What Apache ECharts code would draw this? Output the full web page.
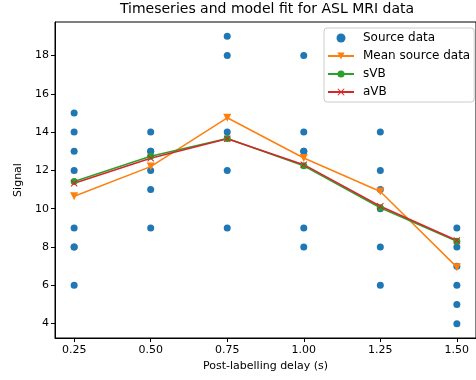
<!DOCTYPE html>
<html><head><meta charset="utf-8">
<script src="https://cdn.jsdelivr.net/npm/echarts@6/dist/echarts.min.js"></script>
<style>html,body{margin:0;padding:0;background:#fff}#c{width:476px;height:380px}</style>
</head><body><div id="c"></div>
<script>
const delays = [0.25, 0.5, 0.75, 1.0, 1.25, 1.5];
const sourceByDelay = [
  [15, 14, 13, 12, 9, 8, 8, 6],
  [14, 13, 13, 12, 11, 9],
  [19, 18, 14, 12, 9],
  [18, 14, 13, 13, 9, 8],
  [14, 12, 11, 10, 8, 6],
  [9, 8, 7, 6, 5, 4]
];
const meanSource = [10.65, 12.2, 14.75, 12.65, 10.9, 6.95];
const sVB = [11.42, 12.74, 13.67, 12.24, 10.05, 8.3];
const aVB = [11.33, 12.64, 13.65, 12.3, 10.13, 8.34];
const xTicks = [0.25, 0.5, 0.75, 1.0, 1.25, 1.5];
const yTicks = [4, 6, 8, 10, 12, 14, 16, 18];
const titleText = 'Timeseries and model fit for ASL MRI data';

const font = 'DejaVu Sans';
const sourcePoints = [];
delays.forEach((d, i) => sourceByDelay[i].forEach(v => sourcePoints.push([d, v])));
const pair = arr => delays.map((d, i) => [d, arr[i]]);
const xPath = 'path://M0,1L1,0L5,4L9,0L10,1L6,5L10,9L9,10L5,6L1,10L0,9L4,5Z';

const chart = echarts.init(document.getElementById('c'));
chart.setOption({
  animation: false,
  backgroundColor: '#fff',
  graphic: [{
    type: 'text', x: 267, y: 2,
    style: {text: titleText, textAlign: 'center', textVerticalAlign: 'top', fontFamily: font, fontSize: 14, fill: '#000'}
  }],
  grid: {left: 55, top: 22, width: 423, height: 316, show: true, borderColor: '#000', borderWidth: 1, backgroundColor: 'transparent'},
  xAxis: {
    type: 'value', min: 0.1875, max: 1.5625,
    name: 'Post-labelling delay (s)', nameLocation: 'middle', nameGap: 21,
    nameTextStyle: {fontFamily: font, fontSize: 11, color: '#000'},
    axisLine: {show: true, lineStyle: {color: '#000'}},
    axisTick: {show: true, customValues: xTicks, length: 4, inside: false, lineStyle: {color: '#000'}},
    axisLabel: {customValues: xTicks, margin: 7, fontFamily: font, fontSize: 11, color: '#000', formatter: v => v.toFixed(2)},
    splitLine: {show: false}
  },
  yAxis: {
    type: 'value', min: 3.25, max: 19.75,
    name: 'Signal', nameLocation: 'middle', nameGap: 29, nameRotate: 90,
    nameTextStyle: {fontFamily: font, fontSize: 11, color: '#000'},
    axisLine: {show: true, lineStyle: {color: '#000'}},
    axisTick: {show: true, customValues: yTicks, length: 4, lineStyle: {color: '#000'}},
    axisLabel: {customValues: yTicks, margin: 6, fontFamily: font, fontSize: 11, color: '#000'},
    splitLine: {show: false}
  },
  legend: {
    orient: 'vertical', left: 324, top: 28,
    backgroundColor: '#fff', borderColor: '#ccc', borderWidth: 1, borderRadius: 3,
    padding: [4, 4, 4, 3], itemWidth: 26, itemHeight: 9, itemGap: 6,
    textStyle: {fontFamily: font, fontSize: 12, lineHeight: 12, color: '#000', padding: [0, 0, 0, 4]},
    data: ['Source data', 'Mean source data', 'sVB', 'aVB']
  },
  series: [
    {name: 'Source data', type: 'scatter', data: sourcePoints, symbol: 'circle', symbolSize: 7, itemStyle: {color: '#1f77b4', opacity: 1}},
    {name: 'Mean source data', type: 'line', data: pair(meanSource), symbol: 'triangle', symbolRotate: 180, symbolSize: 8, showAllSymbol: true,
      lineStyle: {color: '#ff7f0e', width: 1.5}, itemStyle: {color: '#ff7f0e'}},
    {name: 'sVB', type: 'line', data: pair(sVB), symbol: 'circle', symbolSize: 7,
      lineStyle: {color: '#2ca02c', width: 1.5}, itemStyle: {color: '#2ca02c'}},
    {name: 'aVB', type: 'line', data: pair(aVB), symbol: xPath, symbolSize: 7,
      lineStyle: {color: '#d62728', width: 1.5}, itemStyle: {color: '#d62728'}}
  ]
});
</script></body></html>
